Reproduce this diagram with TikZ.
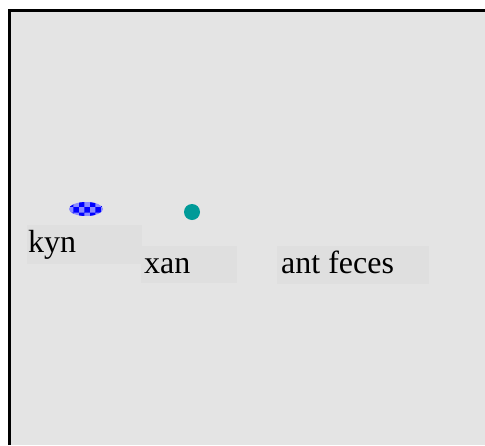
\documentclass[tikz,border=0pt]{standalone}
\usepackage{fontspec}
\setmainfont{Liberation Serif}
\usetikzlibrary{patterns}
\definecolor{bgray}{HTML}{E4E4E4}
\definecolor{boxgray}{HTML}{DFDFDF}
\definecolor{tealdot}{HTML}{009A98}
\tikzset{
  lbl/.style={fill=boxgray, anchor=north west, inner sep=0pt, outer sep=0pt},
  lbltext/.style={anchor=base west, inner sep=0pt, font=\fontsize{32}{37}\selectfont}
}
\begin{document}
\begin{tikzpicture}[x=1pt,y=-1pt]
\useasboundingbox (0,0) rectangle (485,445);
\fill[white] (0,0) rectangle (485,445);
\fill[bgray] (9,9) rectangle (485,445);
\draw[black, line width=3pt] (9.5,445) -- (9.5,10.5) -- (485,10.5);
% label boxes
\node[lbl, minimum width=115pt, minimum height=39pt] (kynbox) at (27,225) {};
\node[lbl, minimum width=96pt, minimum height=37pt] (xanbox) at (141,246) {};
\node[lbl, minimum width=152pt, minimum height=38pt] (antbox) at (277,246) {};
\node[lbltext] (kyn) at (28,252) {kyn};
\node[lbltext] (xan) at (144,273) {xan};
\node[lbltext] (ant) at (281,273) {ant feces};
% markers
\fill[blue!45!white] (86,209) ellipse [x radius=17, y radius=7];
\fill[pattern=checkerboard, pattern color=blue] (86,209) ellipse [x radius=17, y radius=7];
\fill[tealdot] (192,212) circle [radius=8];
\end{tikzpicture}
\end{document}
